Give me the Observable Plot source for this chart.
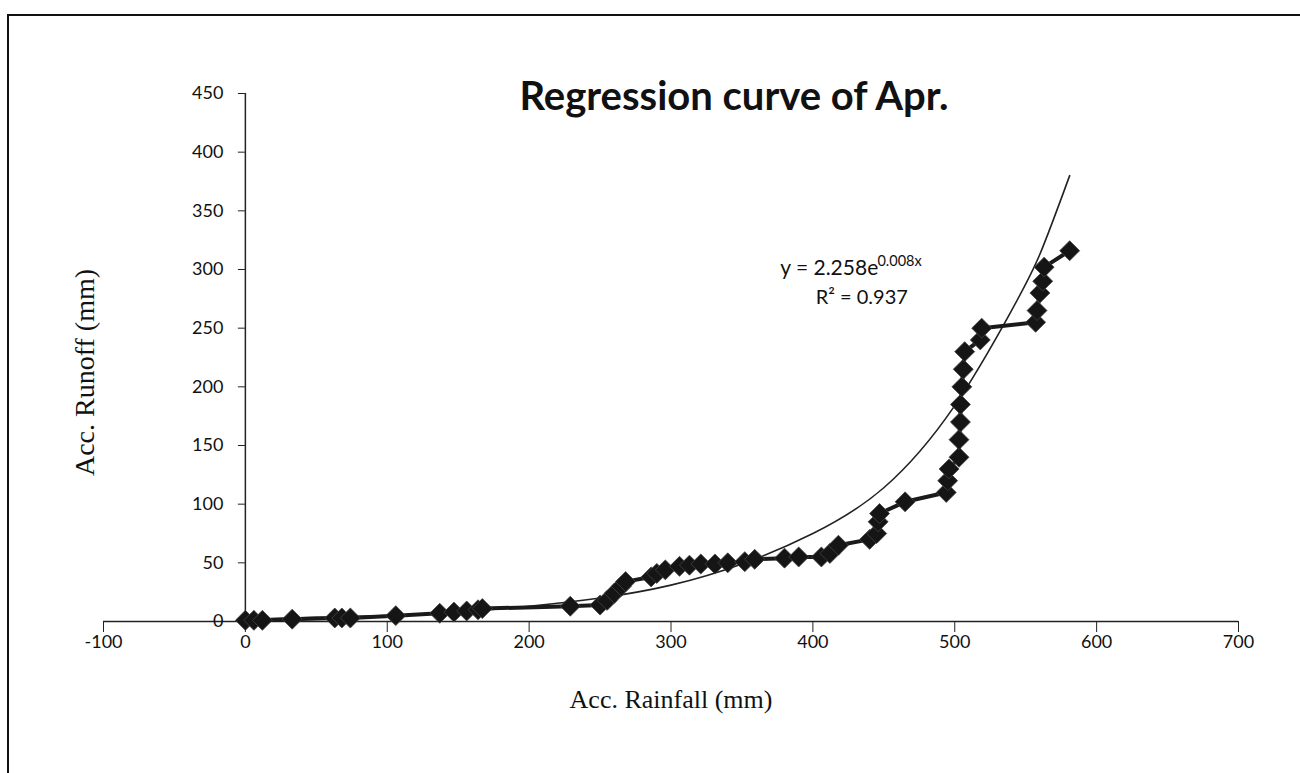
<!DOCTYPE html>
<html>
<head>
<meta charset="utf-8">
<script src="https://cdn.jsdelivr.net/npm/d3@7"></script>
<script src="https://cdn.jsdelivr.net/npm/@observablehq/plot@0.6"></script>
<style>
  html, body { margin: 0; padding: 0; background: #fff; }
  #wrap { position: relative; width: 1300px; height: 773px; overflow: hidden; }
  #border { position: absolute; left: 7px; top: 14px; right: 0; bottom: 0;
            border-top: 2px solid #111; border-left: 2px solid #111; pointer-events: none; }
</style>
</head>
<body>
<div id="wrap"><div id="border"></div></div>
<script>
// ---- data ----
const xTicks = [-100, 0, 100, 200, 300, 400, 500, 600, 700];
const yTicks = [0, 50, 100, 150, 200, 250, 300, 350, 400, 450];

// observed accumulated rainfall / runoff (mm)
const rainfall = [0, 6, 12, 33, 63, 68, 74, 106, 137, 147, 156, 164, 167, 229,
  250, 255, 260, 265, 268, 286, 290, 296, 306, 313, 321, 331, 340, 352, 359,
  380, 390, 406, 412, 418, 440, 445, 446, 447, 465, 494, 495, 496,
  503, 503, 504, 504, 505, 506, 507, 518, 519, 557, 558, 560, 562, 563, 581];
const runoff = [1, 1, 1, 2, 3, 3, 3, 5, 7, 8, 9, 10, 11, 13,
  14, 18, 24, 30, 34, 38, 41, 44, 47, 48, 49, 49, 50, 51, 53,
  54, 55, 55, 58, 65, 70, 75, 85, 92, 102, 110, 120, 130,
  140, 155, 170, 185, 200, 215, 230, 240, 250, 255, 265, 280, 290, 302, 316];

// exponential trend curve
const trendX = [0, 50, 100, 150, 200, 250, 300, 350, 400, 450, 500, 540, 560, 581];
const trendY = [2, 3.5, 5, 8, 13, 20, 31, 49, 75, 114, 184, 265, 313, 380];

const titleText = "Regression curve of Apr.";
const xLabel = "Acc. Rainfall (mm)";
const yLabel = "Acc. Runoff (mm)";
const eqMain = "y = 2.258e";
const eqSup = "0.008x";
const r2Text = "R² = 0.937";

const obs = rainfall.map((x, i) => ({x, y: runoff[i]}));
const trend = trendX.map((x, i) => ({x, y: trendY[i]}));

const sans = "Lato, 'Open Sans', sans-serif";
const serif = "'Liberation Serif', 'DejaVu Serif', serif";

const chart = Plot.plot({
  width: 1300,
  height: 773,
  marginLeft: 103,
  marginRight: 62,
  marginTop: 93,
  marginBottom: 152,
  style: {fontFamily: sans, fontSize: "18px", color: "#111", background: "transparent"},
  x: {domain: [-100, 700], label: null},
  y: {domain: [0, 450], label: null, axis: null},
  marks: [
    // x axis along y = 0
    Plot.ruleY([0], {stroke: "#222", strokeWidth: 1.5}),
    Plot.axisX({ticks: xTicks, tickSize: 11, tickPadding: 3, tickFormat: d => String(d),
                stroke: "#222", fontSize: 18}),
    // y axis along x = 0
    Plot.ruleX([0], {y1: 0, y2: 450, stroke: "#222", strokeWidth: 1.5}),
    Plot.ruleY(yTicks, {y: d => d, x1: 0, x2: 0, insetLeft: -7, stroke: "#222"}),
    Plot.text(yTicks, {x: 0, y: d => d, text: d => String(d), textAnchor: "end", dx: -22, fontSize: 18, fill: "#111"}),
    // trend curve
    Plot.line(trend, {x: "x", y: "y", curve: "natural", stroke: "#222", strokeWidth: 1.6}),
    // observed series
    Plot.line(obs, {x: "x", y: "y", stroke: "#1a1a1a", strokeWidth: 4}),
    Plot.dot(obs, {x: "x", y: "y", symbol: "diamond2", r: 9, fill: "#151515", stroke: "#444", strokeWidth: 0.8}),
    // equation annotation
    Plot.text([eqMain], {x: 377, y: 301, text: d => d, textAnchor: "start", fontSize: 21, fill: "#111"}),
    Plot.text([eqSup], {x: 445.5, y: 307, text: d => d, textAnchor: "start", fontSize: 14.5, fill: "#111"}),
    Plot.text([r2Text], {x: 402, y: 276, text: d => d, textAnchor: "start", fontSize: 20, fill: "#111"}),
    // titles
    Plot.text([titleText], {frameAnchor: "top", dx: 63, dy: -12, text: d => d, fontSize: 40, fontWeight: "bold", fill: "#111"}),
    Plot.text([xLabel], {frameAnchor: "bottom", dy: 86, text: d => d, fontFamily: serif, fontSize: 26, fill: "#111"}),
    Plot.text([yLabel], {frameAnchor: "left", textAnchor: "middle", dx: -18, dy: 15, rotate: -90, text: d => d, fontFamily: serif, fontSize: 28, fill: "#111"})
  ]
});
document.getElementById("wrap").prepend(chart);
</script>
</body>
</html>
